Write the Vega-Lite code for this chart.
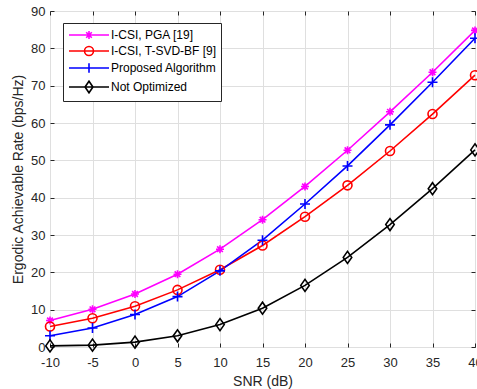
{
  "$schema": "https://vega.github.io/schema/vega-lite/v6.json",
  "width": 425,
  "height": 336,
  "autosize": "none",
  "padding": {"left": 50, "top": 11, "right": 2, "bottom": 42},
  "config": {
    "view": {"stroke": "#262626", "strokeWidth": 1},
    "font": "Liberation Sans",
    "axis": {
      "labelFont": "Liberation Sans", "titleFont": "Liberation Sans",
      "labelFontSize": 13, "titleFontSize": 14, "labelColor": "#262626", "titleColor": "#262626",
      "titleFontWeight": "normal", "gridColor": "#dfdfdf", "gridWidth": 1, "domain": false,
      "tickColor": "#262626", "tickSize": -4, "tickWidth": 1, "labelFlush": false
    }
  },
  "data": {"values": [
    {"snr": -10, "series": "I-CSI, PGA [19]", "rate": 7.1},
    {"snr": -5, "series": "I-CSI, PGA [19]", "rate": 10.1},
    {"snr": 0, "series": "I-CSI, PGA [19]", "rate": 14.2},
    {"snr": 5, "series": "I-CSI, PGA [19]", "rate": 19.5},
    {"snr": 10, "series": "I-CSI, PGA [19]", "rate": 26.2},
    {"snr": 15, "series": "I-CSI, PGA [19]", "rate": 34.1},
    {"snr": 20, "series": "I-CSI, PGA [19]", "rate": 43.0},
    {"snr": 25, "series": "I-CSI, PGA [19]", "rate": 52.7},
    {"snr": 30, "series": "I-CSI, PGA [19]", "rate": 63.0},
    {"snr": 35, "series": "I-CSI, PGA [19]", "rate": 73.6},
    {"snr": 40, "series": "I-CSI, PGA [19]", "rate": 84.8},
    {"snr": -10, "series": "I-CSI, T-SVD-BF [9]", "rate": 5.5},
    {"snr": -5, "series": "I-CSI, T-SVD-BF [9]", "rate": 7.7},
    {"snr": 0, "series": "I-CSI, T-SVD-BF [9]", "rate": 10.9},
    {"snr": 5, "series": "I-CSI, T-SVD-BF [9]", "rate": 15.3},
    {"snr": 10, "series": "I-CSI, T-SVD-BF [9]", "rate": 20.7},
    {"snr": 15, "series": "I-CSI, T-SVD-BF [9]", "rate": 27.2},
    {"snr": 20, "series": "I-CSI, T-SVD-BF [9]", "rate": 34.9},
    {"snr": 25, "series": "I-CSI, T-SVD-BF [9]", "rate": 43.3},
    {"snr": 30, "series": "I-CSI, T-SVD-BF [9]", "rate": 52.5},
    {"snr": 35, "series": "I-CSI, T-SVD-BF [9]", "rate": 62.4},
    {"snr": 40, "series": "I-CSI, T-SVD-BF [9]", "rate": 72.8},
    {"snr": -10, "series": "Proposed Algorithm", "rate": 3.0},
    {"snr": -5, "series": "Proposed Algorithm", "rate": 5.1},
    {"snr": 0, "series": "Proposed Algorithm", "rate": 8.7},
    {"snr": 5, "series": "Proposed Algorithm", "rate": 13.5},
    {"snr": 10, "series": "Proposed Algorithm", "rate": 20.4},
    {"snr": 15, "series": "Proposed Algorithm", "rate": 28.6},
    {"snr": 20, "series": "Proposed Algorithm", "rate": 38.3},
    {"snr": 25, "series": "Proposed Algorithm", "rate": 48.5},
    {"snr": 30, "series": "Proposed Algorithm", "rate": 59.5},
    {"snr": 35, "series": "Proposed Algorithm", "rate": 70.9},
    {"snr": 40, "series": "Proposed Algorithm", "rate": 82.7},
    {"snr": -10, "series": "Not Optimized", "rate": 0.3},
    {"snr": -5, "series": "Not Optimized", "rate": 0.5},
    {"snr": 0, "series": "Not Optimized", "rate": 1.3},
    {"snr": 5, "series": "Not Optimized", "rate": 3.0},
    {"snr": 10, "series": "Not Optimized", "rate": 6.0},
    {"snr": 15, "series": "Not Optimized", "rate": 10.4},
    {"snr": 20, "series": "Not Optimized", "rate": 16.5},
    {"snr": 25, "series": "Not Optimized", "rate": 24.0},
    {"snr": 30, "series": "Not Optimized", "rate": 32.8},
    {"snr": 35, "series": "Not Optimized", "rate": 42.4},
    {"snr": 40, "series": "Not Optimized", "rate": 52.8}
  ]},
  "resolve": {"axis": {"x": "independent", "y": "independent"}},
  "layer": [
    {
      "encoding": {
        "x": {"field": "snr", "type": "quantitative", "scale": {"domain": [-10, 40], "nice": false},
          "axis": {"title": "SNR (dB)", "values": [-10, -5, 0, 5, 10, 15, 20, 25, 30, 35, 40], "labelPadding": 13, "titlePadding": 5,
            "labelExpr": "replace(datum.label, '\u2212', '-')"}},
        "y": {"field": "rate", "type": "quantitative", "scale": {"domain": [0, 90], "nice": false},
          "axis": {"title": "Ergodic Achievable Rate (bps/Hz)", "values": [0, 10, 20, 30, 40, 50, 60, 70, 80, 90], "labelPadding": 9, "titlePadding": 5}}
      },
      "layer": [
        {
          "mark": {"type": "line", "strokeWidth": 1.6},
          "encoding": {
            "color": {"field": "series", "type": "nominal",
              "scale": {"domain": ["I-CSI, PGA [19]", "I-CSI, T-SVD-BF [9]", "Proposed Algorithm", "Not Optimized"],
                        "range": ["#ff00ff", "#ff0000", "#0000ff", "#000000"]},
              "legend": {
                "title": null, "orient": "none", "legendX": 13, "legendY": 12,
                "strokeColor": "#262626", "fillColor": "white", "padding": 4,
                "labelFont": "Liberation Sans", "labelFontSize": 12, "labelColor": "#000000",
                "symbolSize": 196, "symbolStrokeWidth": 1.6, "symbolOffset": 14, "labelOffset": 14, "rowPadding": 0,
                "encode": {"symbols": {"update": {
                  "fill": {"value": "transparent"},
                  "shape": {"signal": "datum.value == 'I-CSI, PGA [19]' ? 'M-2.86,0H2.86M-0.57,0H0.57M0,-0.57V0.57M-0.4,-0.4L0.4,0.4M-0.4,0.4L0.4,-0.4' : datum.value == 'I-CSI, T-SVD-BF [9]' ? 'M-2.86,0H2.86M0.64,0A0.64,0.64 0 1,1 -0.64,0A0.64,0.64 0 1,1 0.64,0' : datum.value == 'Proposed Algorithm' ? 'M-2.86,0H2.86M0,-0.69V0.69' : 'M-2.86,0H2.86M-0.57,0L0,-0.83L0.57,0L0,0.83Z'"}
                }}}
              }}
          }
        },
        {
          "transform": [{"filter": "datum.series == 'I-CSI, PGA [19]'"}],
          "mark": {"type": "point", "filled": false, "strokeWidth": 1.6, "size": 100, "opacity": 1, "color": "#ff00ff",
            "shape": "M-0.8,0H0.8M0,-0.8V0.8M-0.57,-0.57L0.57,0.57M-0.57,0.57L0.57,-0.57"}
        },
        {
          "transform": [{"filter": "datum.series == 'I-CSI, T-SVD-BF [9]'"}],
          "mark": {"type": "point", "filled": false, "strokeWidth": 1.6, "size": 100, "opacity": 1, "color": "#ff0000",
            "shape": "M0.9,0A0.9,0.9 0 1,1 -0.9,0A0.9,0.9 0 1,1 0.9,0"}
        },
        {
          "transform": [{"filter": "datum.series == 'Proposed Algorithm'"}],
          "mark": {"type": "point", "filled": false, "strokeWidth": 1.6, "size": 100, "opacity": 1, "color": "#0000ff",
            "shape": "M-1,0H1M0,-1V1"}
        },
        {
          "transform": [{"filter": "datum.series == 'Not Optimized'"}],
          "mark": {"type": "point", "filled": false, "strokeWidth": 1.6, "size": 100, "opacity": 1, "color": "#000000",
            "shape": "M-0.85,0L0,-1.2L0.85,0L0,1.2Z"}
        }
      ]
    },
    {
      "mark": {"type": "point", "size": 0, "opacity": 0},
      "encoding": {
        "x": {"field": "snr", "type": "quantitative", "scale": {"domain": [-10, 40], "nice": false},
          "axis": {"orient": "top", "title": null, "labels": false, "grid": false, "values": [-10, -5, 0, 5, 10, 15, 20, 25, 30, 35, 40]}},
        "y": {"field": "rate", "type": "quantitative", "scale": {"domain": [0, 90], "nice": false},
          "axis": {"orient": "right", "title": null, "labels": false, "grid": false, "values": [0, 10, 20, 30, 40, 50, 60, 70, 80, 90]}}
      }
    }
  ]
}
